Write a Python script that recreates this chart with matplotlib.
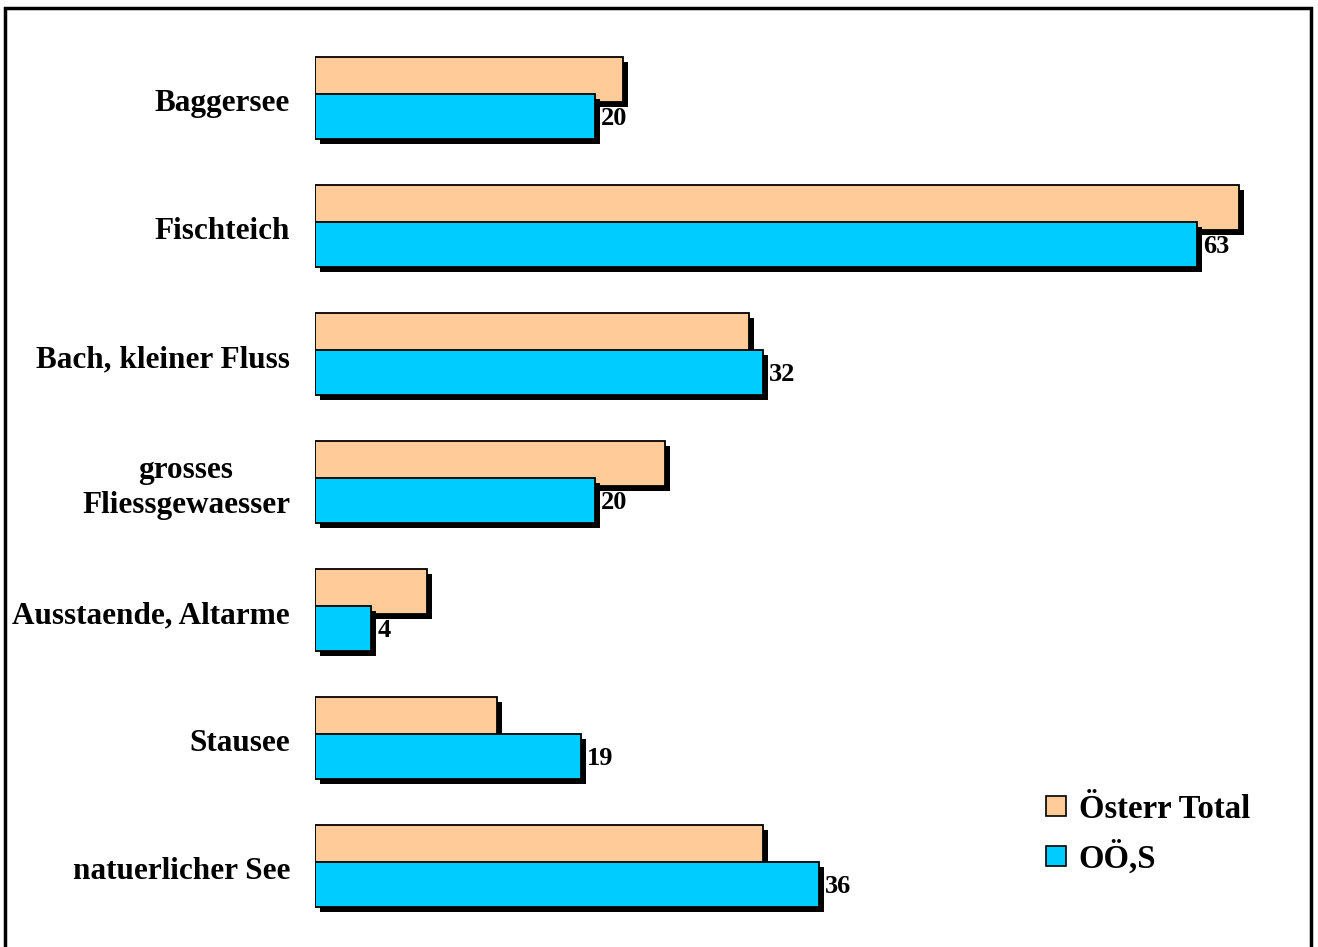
import matplotlib
matplotlib.use("Agg")
import matplotlib.pyplot as plt
from matplotlib.patches import Rectangle
from matplotlib.transforms import ScaledTranslation
from matplotlib.lines import Line2D

categories = ["Baggersee", "Fischteich", "Bach, kleiner Fluss",
              "grosses\nFliessgewaesser", "Ausstaende, Altarme",
              "Stausee", "natuerlicher See"]
oesterr_total = [22, 66, 31, 25, 8, 13, 32]
ooe_s = [20, 63, 32, 20, 4, 19, 36]
series_names = ["Österr Total", "OÖ,S"]

ORANGE = "#FFCC99"
BLUE = "#00CCFF"
FONT = "Liberation Serif"

W, H, DPI = 1318, 947, 100
fig = plt.figure(figsize=(W / DPI, H / DPI), dpi=DPI)

# axes: x=0 at px 315, 14 px per unit; rows of 128 px starting at px 34
x0_px, px_per_unit = 315, 14
xmax = 70
top_px, row_px = 34, 128
n = len(categories)
ax = fig.add_axes([x0_px / W, 1 - (top_px + n * row_px) / H,
                   xmax * px_per_unit / W, n * row_px / H])
ax.set_xlim(0, xmax)
ax.set_ylim(n - 0.5, -0.5)
ax.axis("off")

bar_h = 45 / row_px
off = 18.5 / row_px
pos = list(range(n))
shadow = ax.transData + ScaledTranslation(5 / DPI, -5 / DPI, fig.dpi_scale_trans)

y_or = [p - off for p in pos]
y_bl = [p + off for p in pos]

ax.barh(y_or, oesterr_total, height=bar_h, color="black", transform=shadow, zorder=1)
ax.barh(y_or, oesterr_total, height=bar_h, color=ORANGE, edgecolor="black",
        linewidth=1.3, zorder=2)
ax.barh(y_bl, ooe_s, height=bar_h, color="black", transform=shadow, zorder=3)
ax.barh(y_bl, ooe_s, height=bar_h, color=BLUE, edgecolor="black",
        linewidth=1.3, zorder=4)

for y, v in zip(y_bl, ooe_s):
    ax.annotate(str(v), xy=(v, y), xytext=(4.5, -1.5), textcoords="offset points",
                ha="left", va="center", fontsize=19, fontweight="bold",
                family=FONT, zorder=5)

for p, name in zip(pos, categories):
    ax.annotate(name, xy=(0, p), xytext=(-25 / DPI * 72, -4),
                textcoords="offset points", ha="right", va="center",
                multialignment="center", fontsize=22.5, fontweight="bold",
                family=FONT, linespacing=1.27)

handles = [Line2D([], [], linestyle="none", marker="s", markersize=15,
                  markerfacecolor=c, markeredgecolor="black", markeredgewidth=1.2)
           for c in (ORANGE, BLUE)]
fig.legend(handles, series_names, loc="upper left",
           bbox_to_anchor=(1010 / W, 1 - 764 / H), frameon=False,
           prop={"family": FONT, "weight": "bold", "size": 23.6},
           handletextpad=0.2, labelspacing=0.48, handlelength=1.0)

# outer frame around the chart area
fig.patches.append(Rectangle((5 / W, -0.02), (1311 - 5) / W, 1.02 - 8 / H,
                             transform=fig.transFigure, fill=False,
                             edgecolor="black", linewidth=2.5))

fig.savefig("out.png", dpi=DPI)
